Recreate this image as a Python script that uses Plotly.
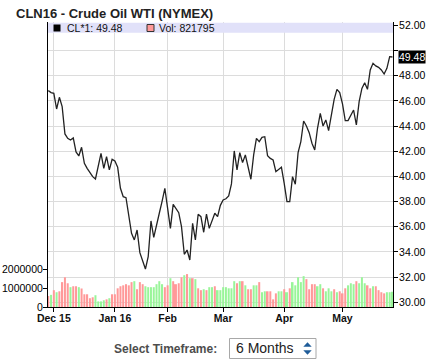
import plotly.graph_objects as go
import pandas as pd

# ---------------- data ----------------
title_text = "CLN16 - Crude Oil WTI (NYMEX)"
holidays = ["2015-12-25", "2016-01-01", "2016-01-18", "2016-02-15", "2016-03-25"]
days = [d.strftime("%Y-%m-%d") for d in pd.bdate_range("2015-11-27", "2016-05-26")
        if d.strftime("%Y-%m-%d") not in holidays]

close = [
    46.81, 46.65, 46.60, 45.35, 46.28, 45.54, 43.37, 43.02, 42.89, 43.05,
    41.94, 41.62, 42.31, 41.04, 40.64, 40.32, 39.98, 39.79, 40.77, 41.83,
    40.64, 41.57, 40.51, 41.35, 41.22, 40.72, 39.05, 38.39, 38.31, 36.80,
    35.48, 34.95, 35.74, 33.94, 33.36, 32.64, 33.62, 36.46, 35.16, 36.01,
    37.07, 38.02, 39.05, 37.46, 35.87, 37.78, 37.46, 37.12, 36.01, 33.81,
    34.15, 33.36, 36.27, 34.95, 36.99, 36.80, 35.56, 37.01, 35.87, 36.43,
    37.07, 36.80, 37.70, 38.13, 38.22, 38.44, 39.40, 42.02, 40.51, 41.88,
    41.09, 41.70, 40.64, 39.77, 41.70, 43.02, 42.76, 43.10, 43.15, 41.65,
    41.43, 41.30, 40.37, 40.56, 40.72, 39.45, 37.99, 37.99, 39.98, 39.37,
    41.88, 42.76, 44.40, 44.00, 43.47, 42.63, 42.10, 43.82, 45.01, 44.00,
    44.48, 43.63, 44.80, 46.12, 46.91, 46.65, 45.75, 44.43, 44.43, 44.80,
    45.27, 44.08, 45.93, 46.99, 47.44, 46.91, 48.45, 48.98, 48.77, 48.66,
    48.45, 48.13, 48.58, 49.51, 49.48,
]

volume = [
    590000, 650000, 900000, 790000, 840000, 1330000, 1590000, 1270000, 1060000, 1110000,
    1110000, 1060000, 990000, 680000, 680000, 470000, 520000, 630000, 300000, 300000,
    360000, 410000, 470000, 680000, 680000, 1000000, 1110000, 1160000, 1220000, 1160000,
    1330000, 1380000, 950000, 1330000, 1220000, 1110000, 1060000, 1060000, 1060000, 1220000,
    1380000, 1220000, 1060000, 1160000, 1540000, 1380000, 1220000, 1270000, 1590000, 1700000,
    1760000, 1540000, 1540000, 1490000, 1000000, 900000, 950000, 900000, 1060000, 1060000,
    1110000, 900000,
    900000, 1060000, 1060000, 1000000, 1000000, 1380000, 1270000, 1380000, 1380000, 1160000,
    950000, 950000, 1160000, 1160000, 1330000, 790000, 840000, 840000, 840000, 410000,
    730000, 840000, 840000, 950000, 790000, 1000000, 1330000, 1160000, 1590000, 1330000,
    1650000, 1490000, 950000, 1220000, 1220000, 1110000, 1220000, 1000000, 840000, 1000000,
    840000, 950000, 790000, 840000, 730000, 1000000, 1160000, 1270000, 1220000, 1380000,
    1270000, 1590000, 1270000, 1160000, 1000000, 1110000, 1110000, 900000, 790000, 730000,
    790000, 790000, 821795,
]

updown = list(
    "RGRGRRRRGRRGRRRRRGGGGRGRRRRRRRRGRRRGGGGGGGRRGRRRRGRGRGRRGRGGRG"
    "GGGGGGRGRGRRGGRGGRRRRGGRGRGGGGGRRRRGGRGGGRGRRRGGGRGGGRRGRRRRGGG"
)

tick_dates = ["2015-12-01", "2016-01-04", "2016-02-01", "2016-03-01", "2016-04-01", "2016-05-02"]
tick_labels = ["Dec 15", "Jan 16", "Feb", "Mar", "Apr", "May"]

price_ticks = [30, 32, 34, 36, 38, 40, 42, 44, 46, 48, 50, 52]
price_labels = ["30.00", "32.00", "34.00", "36.00", "38.00", "40.00", "42.00",
                "44.00", "46.00", "48.00", "", "52.00"]
vol_ticks = [0, 1000000, 2000000]
vol_labels = ["0", "1000000", "2000000"]

last_price = "49.48"
last_vol = "821795"

# ---------------- layout helpers ----------------
W, H = 445, 363
ML, MR, MT, MB = 48, 52, 22, 56
PW, PH = W - ML - MR, H - MT - MB


def px(x):
    return (x - ML) / PW


def py(y):
    return (H - MB - y) / PH


FONT = "Liberation Sans, Arial, sans-serif"
RED = "#ff9999"
GREEN = "#99f599"

fig = go.Figure()
fig.add_trace(go.Scatter(x=days, y=close, mode="lines",
                         line=dict(color="#222222", width=1.3),
                         yaxis="y", hoverinfo="skip", showlegend=False))
fig.add_trace(go.Bar(x=days, y=volume, width=0.72,
                     marker=dict(color=[RED if c == "R" else GREEN for c in updown],
                                 line=dict(width=0)),
                     yaxis="y2", hoverinfo="skip", showlegend=False))

shapes = [
    # legend band
    dict(type="rect", xref="paper", yref="paper", x0=0, x1=1,
         y0=py(32.7), y1=py(22.7), fillcolor="#e1e1f9", line=dict(width=0), layer="above"),
    dict(type="rect", xref="paper", yref="paper", x0=px(53.5), x1=px(60.5),
         y0=py(31.5), y1=py(24.5), fillcolor="#000000", line=dict(width=0), layer="above"),
    dict(type="rect", xref="paper", yref="paper", x0=px(147), x1=px(154),
         y0=py(31.5), y1=py(24.5), fillcolor=RED, line=dict(width=1, color="#333333"), layer="above"),
    # select box
    dict(type="rect", xref="paper", yref="paper", x0=px(229.5), x1=px(316),
         y0=py(358.5), y1=py(338.5), fillcolor="#ffffff", line=dict(width=1, color="#a8a8a8")),
    dict(type="path", xref="paper", yref="paper",
         path=f"M {px(303.3)},{py(346.8)} L {px(311.7)},{py(346.8)} L {px(307.5)},{py(342.3)} Z",
         fillcolor="#1f5c99", line=dict(width=0)),
    dict(type="path", xref="paper", yref="paper",
         path=f"M {px(303.3)},{py(350.2)} L {px(311.7)},{py(350.2)} L {px(307.5)},{py(354.8)} Z",
         fillcolor="#1f5c99", line=dict(width=0)),
]

annotations = [
    dict(text=f"<b>{title_text}</b>", xref="paper", yref="paper", x=px(14), y=py(13.3),
         xanchor="left", yanchor="middle", showarrow=False,
         font=dict(family=FONT, size=13, color="#222222")),
    dict(text=f"CL*1: {last_price}", xref="paper", yref="paper", x=px(64.5), y=py(28),
         xanchor="left", yanchor="middle", showarrow=False,
         font=dict(family=FONT, size=10.5, color="#111111")),
    dict(text=f"Vol: {last_vol}", xref="paper", yref="paper", x=px(156.5), y=py(28),
         xanchor="left", yanchor="middle", showarrow=False,
         font=dict(family=FONT, size=10.5, color="#111111")),
    dict(text=last_price, xref="paper", yref="y", x=1, y=float(last_price),
         xanchor="left", yanchor="middle", xshift=5, showarrow=False,
         bgcolor="#000000", borderpad=0,
         font=dict(family=FONT, size=10.5, color="#ffffff")),
    dict(text="<b>Select Timeframe:</b>", xref="paper", yref="paper", x=px(165), y=py(348.5),
         xanchor="center", yanchor="middle", showarrow=False,
         font=dict(family=FONT, size=12, color="#4d4d4d")),
    dict(text="6 Months", xref="paper", yref="paper", x=px(233.5), y=py(348.3),
         xanchor="left", yanchor="middle", showarrow=False,
         font=dict(family=FONT, size=14, color="#222222")),
]

fig.update_layout(
    width=W, height=H,
    margin=dict(l=ML, r=MR, t=MT, b=MB, pad=0, autoexpand=False),
    paper_bgcolor="#ffffff", plot_bgcolor="#ffffff",
    font=dict(family=FONT, size=10.5, color="#000000"),
    showlegend=False,
    xaxis=dict(type="category", range=[-0.1, 124.2], automargin=False,
               tickmode="array", tickvals=tick_dates,
               ticktext=[f"<b>{t}</b>" for t in tick_labels],
               showgrid=True, gridcolor="#dcdcdc", gridwidth=1,
               showline=True, linecolor="#000000", linewidth=1,
               ticks="outside", ticklen=4, tickcolor="#000000",
               ticklabelstandoff=-3,
               tickfont=dict(family=FONT, size=10.5, color="#111111"),
               fixedrange=True),
    yaxis=dict(side="right", range=[29.625, 52.26], automargin=False,
               tickmode="array", tickvals=price_ticks, ticktext=price_labels,
               showgrid=True, gridcolor="#dcdcdc", gridwidth=1,
               showline=True, linecolor="#000000", linewidth=1,
               ticks="outside", ticklen=4, tickcolor="#000000",
               ticklabelstandoff=-1,
               zeroline=False, tickfont=dict(family=FONT, size=10.5, color="#000000")),
    yaxis2=dict(overlaying="y", side="left", range=[0, 15.24e6], automargin=False,
                tickmode="array", tickvals=vol_ticks, ticktext=vol_labels,
                showgrid=False, showline=True, linecolor="#000000", linewidth=1,
                ticks="outside", ticklen=4, tickcolor="#000000",
                ticklabelstandoff=-2,
                zeroline=False, tickfont=dict(family=FONT, size=10.5, color="#000000")),
    shapes=shapes,
    annotations=annotations,
)

fig.write_html("out.html", config={"displayModeBar": False},
               post_script="document.body.style.margin='0';document.body.style.padding='0';")
